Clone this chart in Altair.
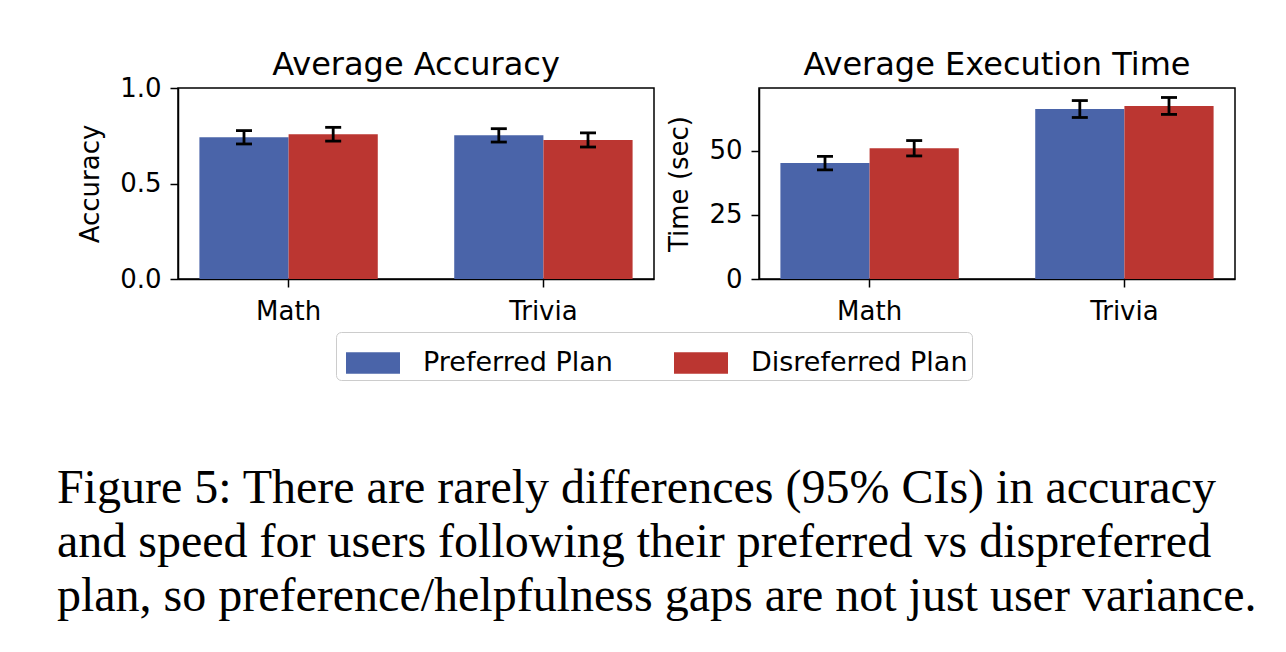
import altair as alt
import pandas as pd

tasks = ["Math", "Trivia"]
plans = ["Preferred Plan", "Disreferred Plan"]
colors = ["#4a64a9", "#bb3631"]

acc_pref = [0.742, 0.752]
acc_disp = [0.758, 0.728]
acc_err_pref = [0.035, 0.035]
acc_err_disp = [0.036, 0.037]

time_pref = [45.2, 66.3]
time_disp = [51.0, 67.5]
time_err_pref = [2.6, 3.3]
time_err_disp = [3.0, 3.3]

acc_ticks = [0, 0.5, 1.0]
time_ticks = [0, 25, 50]

caption_lines = [
    "Figure 5: There are rarely differences (95% CIs) in accuracy",
    "and speed for users following their preferred vs dispreferred",
    "plan, so preference/helpfulness gaps are not just user variance.",
]

FONT = "DejaVu Sans"


def table(pref, disp, ep, ed):
    rows = []
    for i, t in enumerate(tasks):
        rows.append({"task": t, "plan": plans[0], "value": pref[i], "err": ep[i]})
        rows.append({"task": t, "plan": plans[1], "value": disp[i], "err": ed[i]})
    return pd.DataFrame(rows)


legend = alt.Legend(
    title=None, orient="none", legendX=158, legendY=244, direction="horizontal",
    symbolType="M-1,-0.4H1V0.4H-1Z", symbolSize=2916, symbolStrokeWidth=0,
    symbolOpacity=1, symbolOffset=6, labelFontSize=27, labelFont=FONT,
    labelColor="black", labelLimit=0, columnPadding=55, labelOffset=23,
    padding=4, strokeColor="#cccccc", fillColor="white", cornerRadius=5,
)


def panel(df, title, ytitle, ydomain, yvalues, yfmt, title_offset):
    x = alt.X("task:N", sort=tasks, title=None,
              scale=alt.Scale(paddingInner=0.3, paddingOuter=0.084),
              axis=alt.Axis(labelAngle=0, labelPadding=11, tickSize=8))
    xo = alt.XOffset("plan:N", sort=plans,
                     scale=alt.Scale(paddingInner=0, paddingOuter=0))
    base = alt.Chart(df).transform_calculate(
        lo="datum.value - datum.err", hi="datum.value + datum.err"
    ).encode(x=x, xOffset=xo)
    yscale = alt.Scale(domain=ydomain, nice=False, zero=True)
    yaxis = alt.Axis(values=yvalues, format=yfmt, tickSize=8, labelPadding=9,
                     titlePadding=16)
    bars = base.mark_bar().encode(
        y=alt.Y("value:Q", scale=yscale, title=ytitle, axis=yaxis),
        color=alt.Color("plan:N", sort=plans,
                        scale=alt.Scale(domain=plans, range=colors),
                        legend=legend),
    )
    rule = base.mark_rule(color="black", strokeWidth=2.8).encode(
        y=alt.Y("lo:Q", title=ytitle), y2="hi:Q")
    cap_lo = base.mark_tick(color="black", thickness=2.8, size=16, opacity=1).encode(
        y=alt.Y("lo:Q", title=ytitle))
    cap_hi = base.mark_tick(color="black", thickness=2.8, size=16, opacity=1).encode(
        y=alt.Y("hi:Q", title=ytitle))
    return alt.layer(bars, rule, cap_lo, cap_hi).properties(
        width=476, height=191,
        title=alt.TitleParams(title, fontSize=32, font=FONT, fontWeight="normal",
                              color="black", offset=title_offset),
    )


left = panel(table(acc_pref, acc_disp, acc_err_pref, acc_err_disp),
             "Average Accuracy", "Accuracy", [0, 1.0], acc_ticks, ".1f", -7)
right = panel(table(time_pref, time_disp, time_err_pref, time_err_disp),
              "Average Execution Time", "Time (sec)", [0, 74.5], time_ticks, "d", 6)

chart = alt.hconcat(left, right, spacing=11).properties(
    padding={"left": 48, "top": 40, "right": 10, "bottom": 10},
    title=alt.TitleParams(
        caption_lines, orient="bottom", anchor="start", frame="bounds",
        font="Liberation Serif", fontSize=48, fontWeight="normal",
        color="black", lineHeight=54, dx=-20, offset=84,
    ),
).configure_view(
    stroke="black", strokeWidth=1.5
).configure_axis(
    domainColor="black", domainWidth=1.5, tickColor="black", tickWidth=1.5,
    labelColor="black", titleColor="black", labelFont=FONT, titleFont=FONT,
    labelFontSize=26, titleFontSize=26, titleFontWeight="normal", grid=False,
)

chart.save("out.html", embed_options={"renderer": "svg", "actions": False})
